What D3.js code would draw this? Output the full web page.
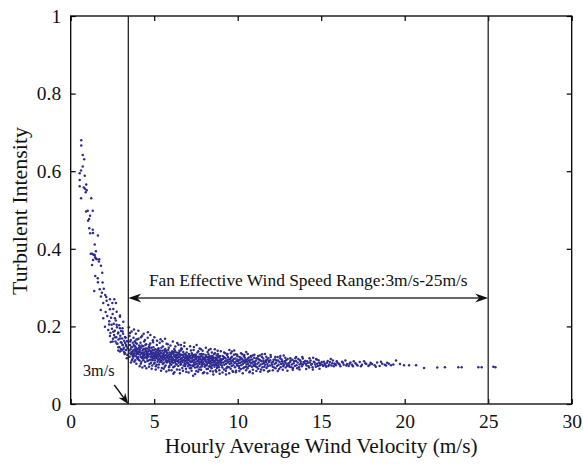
<!DOCTYPE html>
<html><head><meta charset="utf-8">
<script src="https://cdn.jsdelivr.net/npm/d3@7"></script>
<style>
html,body{margin:0;padding:0;background:#fff;}
svg{display:block;font-family:"Liberation Serif","DejaVu Serif",serif;}
</style></head>
<body><svg id="chart" width="583" height="464"></svg>
<script>
// ---- data ----
const xTicks = [0, 5, 10, 15, 20, 25, 30];
const yTicks = [0, 0.2, 0.4, 0.6, 0.8, 1];
const xTickLabels = ["0", "5", "10", "15", "20", "25", "30"];
const yTickLabels = ["0", "0.2", "0.4", "0.6", "0.8", "1"];
const boundaryLines = [3.45, 25];
const rangeArrowY = 0.273;
const rangeLabel = "Fan Effective Wind Speed Range:3m/s-25m/s";
const cutInLabel = "3m/s";
const xTitle = "Hourly Average Wind Velocity (m/s)";
const yTitle = "Turbulent Intensity";

// low wind tail (x < 3.45)
const tailPoints = [
[0.63,0.680],[0.63,0.666],[0.72,0.642],[0.81,0.631],[0.72,0.612],[0.62,0.602],[0.54,0.595],[0.84,0.588],[0.54,0.577],[0.93,0.566],
[0.54,0.561],[0.78,0.558],[0.86,0.555],[0.96,0.551],[0.90,0.546],[0.62,0.530],[1.23,0.530],[1.02,0.498],[0.92,0.496],[1.32,0.498],
[1.16,0.485],[1.10,0.477],[1.04,0.472],[1.11,0.453],[1.32,0.449],[1.17,0.440],[1.34,0.441],[1.63,0.434],[1.44,0.411],[1.51,0.394],
[1.28,0.387],[1.35,0.385],[1.44,0.384],[1.51,0.375],[1.71,0.373],[1.20,0.387],[1.40,0.384],[1.46,0.378],[1.34,0.371],[1.56,0.373],
[1.69,0.367],[1.28,0.358],[1.81,0.356],[1.89,0.338],[1.47,0.330],[1.62,0.324],[1.63,0.314],[1.91,0.313],[1.41,0.291],[1.74,0.296],
[1.98,0.297],[1.87,0.287],[2.07,0.281],[2.13,0.276],[1.81,0.277],[2.35,0.270],[2.15,0.266],[2.61,0.270],[1.95,0.260],[2.25,0.255],
[2.49,0.260],[2.71,0.260],[1.80,0.242],[2.09,0.237],[2.35,0.244],[2.51,0.232],[2.19,0.227],[2.75,0.238],[1.95,0.221],[2.31,0.213],
[2.65,0.221],[2.95,0.225],[2.05,0.199],[2.45,0.204],[2.75,0.204],[2.95,0.195],[3.15,0.212],[2.25,0.191],[2.55,0.186],[2.85,0.184],
[3.11,0.187],[2.35,0.175],[2.65,0.172],[2.95,0.169],[3.25,0.173],[2.51,0.161],[2.75,0.156],[3.05,0.158],[3.31,0.152],[2.85,0.146],
[3.15,0.141],[2.95,0.135],[3.25,0.131],[3.10,0.152],
[2.30,0.205],[2.38,0.183],[2.42,0.222],[2.47,0.194],[2.53,0.168],[2.58,0.207],[2.60,0.178],[2.64,0.189],[2.68,0.161],[2.70,0.215],
[2.73,0.172],[2.77,0.198],[2.80,0.155],[2.83,0.182],[2.86,0.166],[2.90,0.203],[2.92,0.147],[2.97,0.176],[3.00,0.159],[3.02,0.188],
[3.05,0.138],[3.08,0.169],[3.12,0.152],[3.14,0.181],[3.18,0.145],[3.20,0.163],[3.23,0.129],[3.26,0.157],[3.29,0.171],[3.31,0.139],
[3.34,0.148],[3.37,0.162],[3.39,0.126],[3.42,0.144],[3.36,0.118],[3.20,0.134],[3.00,0.142],[2.85,0.138],[3.10,0.195],[2.95,0.228],
[2.55,0.245],[2.40,0.160]
];

// main band (x >= 3.45)
const bandPoints = [
[3.48,0.198],[3.52,0.175],[3.55,0.152],[3.58,0.141],[3.60,0.165],[3.62,0.128],[3.65,0.187],[3.67,0.146],[3.70,0.133],[3.72,0.158],
[3.74,0.119],[3.76,0.171],[3.78,0.139],[3.80,0.125],[3.82,0.149],[3.84,0.162],[3.86,0.113],[3.88,0.136],[3.90,0.181],[3.92,0.144],
[3.94,0.129],[3.96,0.155],[3.98,0.118],[3.50,0.138],[3.53,0.122],[3.57,0.131],[3.63,0.147],[3.68,0.115],[3.73,0.137],[3.77,0.152],
[3.83,0.131],[3.87,0.148],[3.91,0.123],[3.95,0.139],[3.99,0.167],[3.61,0.107],[3.71,0.124],[3.81,0.109],[3.89,0.157],[3.97,0.134],
[4.02,0.142],[4.04,0.121],[4.06,0.168],[4.08,0.134],[4.10,0.151],[4.12,0.112],[4.14,0.139],[4.16,0.127],[4.18,0.158],[4.20,0.104],
[4.22,0.145],[4.24,0.131],[4.26,0.119],[4.28,0.176],[4.30,0.138],[4.32,0.124],[4.34,0.149],[4.36,0.113],[4.38,0.133],[4.40,0.161],
[4.42,0.128],[4.44,0.142],[4.46,0.108],[4.48,0.136],[4.50,0.121],[4.52,0.154],[4.54,0.131],[4.56,0.117],[4.58,0.143],[4.60,0.126],
[4.62,0.185],[4.64,0.135],[4.66,0.112],[4.68,0.147],[4.70,0.129],[4.72,0.103],[4.74,0.138],[4.76,0.156],[4.78,0.122],[4.80,0.134],
[4.82,0.115],[4.84,0.145],[4.86,0.127],[4.88,0.099],[4.90,0.139],[4.92,0.164],[4.94,0.118],[4.96,0.131],[4.98,0.124],
[4.03,0.129],[4.07,0.114],[4.11,0.136],[4.15,0.146],[4.19,0.121],[4.23,0.109],[4.27,0.132],[4.31,0.117],[4.35,0.141],[4.39,0.125],
[4.43,0.098],[4.47,0.152],[4.51,0.137],[4.55,0.126],[4.59,0.111],[4.63,0.122],[4.67,0.139],[4.71,0.152],[4.75,0.114],[4.79,0.128],
[4.83,0.136],[4.87,0.121],[4.91,0.113],[4.95,0.146],[4.99,0.104],
[5.02,0.128],[5.04,0.113],[5.06,0.141],[5.08,0.122],[5.10,0.097],[5.12,0.135],[5.14,0.118],[5.16,0.152],[5.18,0.126],[5.20,0.109],
[5.22,0.133],[5.24,0.121],[5.26,0.144],[5.28,0.102],[5.30,0.127],[5.32,0.116],[5.34,0.138],[5.36,0.124],[5.38,0.167],[5.40,0.112],
[5.42,0.131],[5.44,0.119],[5.46,0.093],[5.48,0.137],[5.50,0.125],[5.52,0.148],[5.54,0.114],[5.56,0.129],[5.58,0.106],[5.60,0.121],
[5.62,0.134],[5.64,0.117],[5.66,0.142],[5.68,0.099],[5.70,0.126],[5.72,0.113],[5.74,0.155],[5.76,0.122],[5.78,0.131],[5.80,0.108],
[5.82,0.119],[5.84,0.139],[5.86,0.126],[5.88,0.087],[5.90,0.115],[5.92,0.133],[5.94,0.121],[5.96,0.104],[5.98,0.128],
[5.03,0.106],[5.07,0.133],[5.11,0.124],[5.15,0.101],[5.19,0.139],[5.23,0.114],[5.27,0.129],[5.31,0.136],[5.35,0.108],[5.39,0.121],
[5.43,0.145],[5.47,0.117],[5.51,0.103],[5.55,0.131],[5.59,0.124],[5.63,0.096],[5.67,0.118],[5.71,0.137],[5.75,0.107],[5.79,0.124],
[5.83,0.112],[5.87,0.145],[5.91,0.098],[5.95,0.122],[5.99,0.115],
[6.02,0.124],[6.05,0.109],[6.08,0.136],[6.11,0.117],[6.14,0.095],[6.17,0.128],[6.20,0.142],[6.23,0.113],[6.26,0.121],[6.29,0.104],
[6.32,0.133],[6.35,0.118],[6.38,0.157],[6.41,0.126],[6.44,0.098],[6.47,0.114],[6.50,0.131],[6.53,0.122],[6.56,0.108],[6.59,0.138],
[6.62,0.116],[6.65,0.127],[6.68,0.093],[6.71,0.112],[6.74,0.134],[6.77,0.121],[6.80,0.149],[6.83,0.105],[6.86,0.118],[6.89,0.127],
[6.92,0.083],[6.95,0.113],[6.98,0.124],
[6.03,0.101],[6.07,0.119],[6.10,0.131],[6.13,0.106],[6.16,0.114],[6.19,0.123],[6.22,0.097],[6.25,0.137],[6.28,0.115],[6.31,0.126],
[6.34,0.102],[6.37,0.111],[6.40,0.119],[6.43,0.132],[6.46,0.106],[6.49,0.121],[6.52,0.088],[6.55,0.127],[6.58,0.115],[6.61,0.103],
[6.64,0.141],[6.67,0.119],[6.70,0.108],[6.73,0.125],[6.76,0.099],[6.79,0.114],[6.82,0.129],[6.85,0.111],[6.88,0.102],[6.91,0.121],
[6.94,0.133],[6.97,0.107],[6.99,0.116],[6.15,0.078],[6.60,0.152],
[7.02,0.118],[7.05,0.103],[7.08,0.129],[7.11,0.112],[7.14,0.092],[7.17,0.124],[7.20,0.138],[7.23,0.108],[7.26,0.117],[7.29,0.099],
[7.32,0.126],[7.35,0.113],[7.38,0.147],[7.41,0.121],[7.44,0.094],[7.47,0.109],[7.50,0.127],[7.53,0.116],[7.56,0.104],[7.59,0.133],
[7.62,0.111],[7.65,0.122],[7.68,0.089],[7.71,0.107],[7.74,0.128],[7.77,0.116],[7.80,0.141],[7.83,0.101],[7.86,0.113],[7.89,0.122],
[7.92,0.079],[7.95,0.109],[7.98,0.119],
[7.03,0.097],[7.07,0.114],[7.10,0.125],[7.13,0.101],[7.16,0.109],[7.19,0.118],[7.22,0.093],[7.25,0.131],[7.28,0.111],[7.31,0.121],
[7.34,0.098],[7.37,0.106],[7.40,0.114],[7.43,0.127],[7.46,0.102],[7.49,0.117],[7.52,0.085],[7.55,0.122],[7.58,0.110],[7.61,0.098],
[7.64,0.136],[7.67,0.114],[7.70,0.103],[7.73,0.121],[7.76,0.095],[7.79,0.109],[7.82,0.124],[7.85,0.106],[7.88,0.097],[7.91,0.116],
[7.94,0.128],[7.97,0.103],[7.33,0.073],
[8.02,0.115],[8.05,0.101],[8.08,0.126],[8.11,0.109],[8.14,0.090],[8.17,0.121],[8.20,0.134],[8.23,0.106],[8.26,0.114],[8.29,0.097],
[8.32,0.123],[8.35,0.111],[8.38,0.142],[8.41,0.118],[8.44,0.092],[8.47,0.107],[8.50,0.124],[8.53,0.113],[8.56,0.102],[8.59,0.129],
[8.62,0.109],[8.65,0.119],[8.68,0.087],[8.71,0.105],[8.74,0.125],[8.77,0.113],[8.80,0.137],[8.83,0.099],[8.86,0.111],[8.89,0.120],
[8.92,0.078],[8.95,0.107],[8.98,0.116],
[8.03,0.096],[8.07,0.112],[8.10,0.122],[8.13,0.099],[8.16,0.107],[8.19,0.115],[8.22,0.091],[8.25,0.128],[8.28,0.109],[8.31,0.118],
[8.34,0.096],[8.37,0.104],[8.40,0.112],[8.43,0.124],[8.46,0.100],[8.49,0.115],[8.52,0.084],[8.55,0.119],[8.58,0.108],[8.61,0.096],
[8.64,0.131],[8.67,0.112],[8.70,0.101],[8.73,0.118],[8.76,0.093],[8.79,0.107],[8.82,0.121],[8.85,0.104],[8.88,0.095],[8.91,0.113],
[8.94,0.124],[8.97,0.101],
[9.02,0.113],[9.06,0.099],[9.10,0.124],[9.14,0.107],[9.18,0.089],[9.22,0.119],[9.26,0.131],[9.30,0.104],[9.34,0.112],[9.38,0.096],
[9.42,0.121],[9.46,0.109],[9.50,0.139],[9.54,0.116],[9.58,0.091],[9.62,0.105],[9.66,0.122],[9.70,0.111],[9.74,0.100],[9.78,0.127],
[9.82,0.107],[9.86,0.117],[9.90,0.086],[9.94,0.103],[9.98,0.123],
[9.04,0.106],[9.08,0.094],[9.12,0.116],[9.16,0.121],[9.20,0.101],[9.24,0.110],[9.28,0.117],[9.32,0.092],[9.36,0.126],[9.40,0.107],
[9.44,0.115],[9.48,0.095],[9.52,0.103],[9.56,0.110],[9.60,0.119],[9.64,0.098],[9.68,0.113],[9.72,0.083],[9.76,0.116],[9.80,0.106],
[9.84,0.095],[9.88,0.128],[9.92,0.110],[9.96,0.099],[9.99,0.115],[9.30,0.076],[9.65,0.135],
[10.03,0.111],[10.07,0.098],[10.11,0.121],[10.15,0.106],[10.19,0.090],[10.23,0.117],[10.27,0.128],[10.31,0.103],[10.35,0.111],[10.39,0.095],
[10.43,0.119],[10.47,0.108],[10.51,0.134],[10.55,0.114],[10.59,0.092],[10.63,0.104],[10.67,0.120],[10.71,0.109],[10.75,0.099],[10.79,0.124],
[10.83,0.106],[10.87,0.115],[10.91,0.088],[10.95,0.102],[10.99,0.119],
[10.05,0.105],[10.09,0.093],[10.13,0.114],[10.17,0.119],[10.21,0.100],[10.25,0.109],[10.29,0.115],[10.33,0.092],[10.37,0.123],[10.41,0.106],
[10.45,0.113],[10.49,0.096],[10.53,0.102],[10.57,0.109],[10.61,0.117],[10.65,0.097],[10.69,0.112],[10.73,0.084],[10.77,0.114],[10.81,0.105],
[10.85,0.096],[10.89,0.125],[10.93,0.109],[10.97,0.098],
[11.03,0.109],[11.08,0.097],[11.13,0.118],[11.18,0.104],[11.23,0.091],[11.28,0.115],[11.33,0.125],[11.38,0.102],[11.43,0.110],[11.48,0.095],
[11.53,0.117],[11.58,0.106],[11.63,0.129],[11.68,0.112],[11.73,0.093],[11.78,0.103],[11.83,0.118],[11.88,0.108],[11.93,0.099],[11.98,0.121],
[11.05,0.103],[11.10,0.112],[11.15,0.095],[11.20,0.117],[11.25,0.107],[11.30,0.098],[11.35,0.113],[11.40,0.089],[11.45,0.121],[11.50,0.104],
[11.55,0.111],[11.60,0.096],[11.65,0.101],[11.70,0.108],[11.75,0.115],[11.80,0.097],[11.85,0.111],[11.90,0.086],[11.95,0.113],
[12.03,0.106],[12.09,0.096],[12.15,0.114],[12.21,0.103],[12.27,0.092],[12.33,0.112],[12.39,0.121],[12.45,0.101],[12.51,0.108],[12.57,0.095],
[12.63,0.115],[12.69,0.105],[12.75,0.125],[12.81,0.110],[12.87,0.094],[12.93,0.103],[12.99,0.116],
[12.06,0.101],[12.12,0.109],[12.18,0.094],[12.24,0.115],[12.30,0.106],[12.36,0.098],[12.42,0.112],[12.48,0.090],[12.54,0.118],[12.60,0.103],
[12.66,0.110],[12.72,0.097],[12.78,0.101],[12.84,0.107],[12.90,0.113],[12.96,0.098],
[13.04,0.105],[13.10,0.096],[13.17,0.112],[13.24,0.102],[13.31,0.093],[13.38,0.110],[13.45,0.118],[13.52,0.100],[13.59,0.107],[13.66,0.095],
[13.73,0.113],[13.80,0.104],[13.87,0.121],[13.94,0.108],
[13.07,0.100],[13.14,0.108],[13.21,0.095],[13.28,0.114],[13.35,0.105],[13.42,0.098],[13.49,0.111],[13.56,0.092],[13.63,0.116],[13.70,0.102],
[13.77,0.109],[13.84,0.097],[13.91,0.102],[13.98,0.106],
[14.04,0.111],[14.12,0.099],[14.20,0.106],[14.28,0.094],[14.36,0.112],[14.44,0.103],[14.52,0.119],[14.60,0.107],[14.68,0.096],[14.76,0.104],
[14.84,0.113],[14.92,0.100],
[14.08,0.103],[14.16,0.110],[14.24,0.097],[14.32,0.107],[14.40,0.101],[14.48,0.095],[14.56,0.109],[14.64,0.102],[14.72,0.115],[14.80,0.098],
[14.88,0.106],[14.96,0.104],
[15.03,0.108],[15.12,0.098],[15.21,0.104],[15.30,0.096],[15.39,0.111],[15.48,0.102],[15.57,0.116],[15.66,0.105],[15.75,0.097],[15.84,0.103],
[15.93,0.110],
[15.07,0.101],[15.16,0.109],[15.25,0.100],[15.34,0.106],[15.43,0.098],[15.52,0.108],[15.61,0.099],[15.70,0.112],[15.79,0.104],[15.88,0.100],
[15.97,0.106],
[16.05,0.104],[16.15,0.097],[16.25,0.109],[16.35,0.101],[16.45,0.112],[16.55,0.103],[16.65,0.098],[16.75,0.107],[16.85,0.101],[16.95,0.110],
[16.10,0.102],[16.30,0.106],[16.50,0.099],[16.70,0.104],[16.90,0.097],
[17.05,0.105],[17.18,0.099],[17.31,0.108],[17.44,0.101],[17.57,0.110],[17.70,0.103],[17.83,0.098],[17.96,0.106],
[17.12,0.102],[17.38,0.097],[17.64,0.105],[17.90,0.101],
[18.05,0.103],[18.20,0.100],[18.35,0.107],[18.50,0.098],[18.65,0.104],[18.80,0.101],[18.95,0.106],[18.27,0.096],[18.58,0.109],[18.88,0.099],
[19.05,0.104],[19.18,0.100],[19.32,0.102],[19.48,0.112],[19.72,0.103],[19.96,0.100],[20.26,0.100],[20.68,0.100],[21.16,0.093],[21.95,0.094],
[22.41,0.095],[23.21,0.095],[23.41,0.095],[24.41,0.095],[24.61,0.095],[25.31,0.096],[25.43,0.095]
];

// band edges (upper and lower scatter, x 3.5–15)
const bandEdgePoints = [
[3.55,0.183],[3.66,0.112],[3.79,0.192],[3.93,0.104],[4.05,0.189],[4.13,0.097],[4.21,0.172],[4.29,0.094],[4.37,0.181],[4.45,0.165],
[4.53,0.092],[4.61,0.171],[4.69,0.096],[4.77,0.178],[4.85,0.091],[4.93,0.159],[5.01,0.172],[5.09,0.089],[5.17,0.163],[5.25,0.094],
[5.33,0.158],[5.41,0.086],[5.49,0.162],[5.57,0.091],[5.65,0.168],[5.73,0.084],[5.81,0.154],[5.89,0.095],[5.97,0.151],[6.04,0.087],
[6.12,0.161],[6.21,0.082],[6.27,0.148],[6.36,0.089],[6.45,0.153],[6.54,0.079],[6.63,0.144],[6.72,0.086],[6.81,0.158],[6.90,0.091],
[6.96,0.142],[7.06,0.081],[7.15,0.149],[7.24,0.086],[7.36,0.139],[7.45,0.077],[7.54,0.152],[7.63,0.083],[7.72,0.143],[7.81,0.088],
[7.90,0.137],[7.99,0.082],[8.09,0.145],[8.18,0.079],[8.27,0.139],[8.36,0.085],[8.45,0.133],[8.54,0.076],[8.63,0.141],[8.72,0.083],
[8.81,0.129],[8.90,0.087],[8.99,0.136],[9.09,0.081],[9.19,0.133],[9.29,0.086],[9.39,0.129],[9.49,0.079],[9.59,0.131],[9.69,0.085],
[9.79,0.138],[9.89,0.082],[9.97,0.127],[10.10,0.085],[10.20,0.131],[10.30,0.079],[10.40,0.126],[10.50,0.087],[10.60,0.129],[10.70,0.082],
[10.80,0.122],[10.90,0.079],[11.00,0.127],[11.12,0.085],[11.22,0.124],[11.36,0.083],[11.46,0.128],[11.57,0.087],[11.71,0.122],[11.82,0.084],
[11.97,0.126],[12.10,0.087],[12.25,0.121],[12.40,0.085],[12.55,0.124],[12.70,0.088],[12.85,0.119],[12.98,0.086],[13.15,0.118],[13.30,0.088],
[13.50,0.121],[13.70,0.089],[13.90,0.117],[14.10,0.090],[14.30,0.118],[14.50,0.089],[14.70,0.116],[14.90,0.091],
[3.56,0.161],[3.64,0.134],[3.75,0.128],[3.85,0.141],[3.93,0.166],[4.01,0.117],[4.09,0.145],[4.17,0.133],[4.25,0.151],[4.33,0.128],
[4.41,0.119],[4.49,0.143],[4.57,0.132],[4.65,0.124],[4.73,0.145],[4.81,0.106],[4.89,0.131],[4.97,0.138],[5.05,0.119],[5.13,0.128],
[5.21,0.141],[5.29,0.115],[5.37,0.131],[5.45,0.109],[5.53,0.122],[5.61,0.139],[5.69,0.111],[5.77,0.133],[5.85,0.119],[5.93,0.109],
[6.01,0.131],[6.09,0.112],[6.18,0.134],[6.24,0.108],[6.33,0.122],[6.42,0.111],[6.51,0.137],[6.57,0.101],[6.66,0.111],[6.75,0.127],
[6.84,0.098],[6.93,0.119],[7.01,0.106],[7.09,0.121],[7.18,0.099],[7.27,0.127],[7.39,0.102],[7.48,0.123],[7.57,0.095],[7.66,0.119],
[7.75,0.108],[7.84,0.129],[7.93,0.104],[8.04,0.118],[8.15,0.102],[8.24,0.121],[8.33,0.105],[8.42,0.096],[8.51,0.118],[8.60,0.101],
[8.69,0.115],[8.78,0.098],[8.87,0.123],[8.96,0.110]
];

// ---- layout ----
const W = 583, H = 464;
const m = {left: 70.7, right: 583 - 571.7, top: 16, bottom: 464 - 404};
const svg = d3.select("#chart");
const x = d3.scaleLinear().domain([0, 30]).range([m.left, W - m.right]);
const y = d3.scaleLinear().domain([0, 1]).range([H - m.bottom, m.top]);
const FONT = "Liberation Serif, DejaVu Serif, serif";

// fit a text element's font size so its width matches a target width
function fitWidth(sel, target) {
  const fs = parseFloat(sel.attr("font-size"));
  const w = sel.node().getComputedTextLength();
  if (w > 0) sel.attr("font-size", (fs * target / w).toFixed(2));
  return sel;
}

// scatter
const dotColor = "#2e2a90";
svg.append("g").selectAll("circle")
  .data(tailPoints.concat(bandPoints, bandEdgePoints))
  .join("circle")
  .attr("cx", d => x(d[0]))
  .attr("cy", d => y(d[1]))
  .attr("r", 1.25)
  .attr("fill", dotColor);

// axes
const fmtX = d => xTickLabels[xTicks.indexOf(d)];
const fmtY = d => yTickLabels[yTicks.indexOf(d)];
const gx = svg.append("g").attr("transform", `translate(0,${y(0)})`)
  .call(d3.axisBottom(x).tickValues(xTicks).tickFormat(fmtX).tickSize(-5).tickPadding(10));
const gy = svg.append("g").attr("transform", `translate(${x(0)},0)`)
  .call(d3.axisLeft(y).tickValues(yTicks).tickFormat(fmtY).tickSize(-5).tickPadding(9.5));
const gt = svg.append("g").attr("transform", `translate(0,${y(1)})`)
  .call(d3.axisTop(x).tickValues(xTicks).tickFormat("").tickSize(-5));
const gr = svg.append("g").attr("transform", `translate(${x(30)},0)`)
  .call(d3.axisRight(y).tickValues(yTicks).tickFormat("").tickSize(-5));
[gx, gy, gt, gr].forEach(g => {
  g.attr("font-family", FONT);
  g.select(".domain").remove();
  g.selectAll("line").attr("stroke", "#000").attr("stroke-width", 1.2);
  g.selectAll("text").attr("font-size", 19.5).attr("fill", "#111");
});

// frame
svg.append("rect")
  .attr("x", x(0)).attr("y", y(1))
  .attr("width", x(30) - x(0)).attr("height", y(0) - y(1))
  .attr("fill", "none").attr("stroke", "#000").attr("stroke-width", 1.3);

// boundary lines
svg.append("g").selectAll("line").data(boundaryLines).join("line")
  .attr("x1", d => x(d)).attr("x2", d => x(d))
  .attr("y1", y(0)).attr("y2", y(1))
  .attr("stroke", "#222").attr("stroke-width", 1.3);

// arrowheads
function arrowHead(tipX, tipY, angle, len, half, notch) {
  const c = Math.cos(angle), s = Math.sin(angle);
  const pt = (a, b) => [tipX - a * c + b * s, tipY - a * s - b * c];
  const p = [pt(0, 0), pt(len, half), pt(len - notch, 0), pt(len, -half)];
  return "M" + p.map(q => q.join(",")).join("L") + "Z";
}
const ay = y(rangeArrowY);
const ax1 = x(boundaryLines[0]), ax2 = x(boundaryLines[1]);
svg.append("line").attr("x1", ax1 + 4).attr("x2", ax2 - 4).attr("y1", ay).attr("y2", ay)
  .attr("stroke", "#333").attr("stroke-width", 1.5);
svg.append("path").attr("d", arrowHead(ax1, ay, Math.PI, 13, 4.5, 4)).attr("fill", "#111");
svg.append("path").attr("d", arrowHead(ax2, ay, 0, 13, 4.5, 4)).attr("fill", "#111");

const rl = svg.append("text").attr("x", (ax1 + ax2) / 2).attr("y", ay - 12)
  .attr("text-anchor", "middle").attr("font-family", FONT).attr("font-size", 17).attr("fill", "#111")
  .text(rangeLabel);
fitWidth(rl, 319);

// 3 m/s pointer
const tipX = x(boundaryLines[0]), tipY = y(0);
const sx = tipX - 14, sy = tipY - 19;
const ang = Math.atan2(tipY - sy, tipX - sx);
svg.append("line").attr("x1", sx).attr("y1", sy)
  .attr("x2", tipX - 6 * Math.cos(ang)).attr("y2", tipY - 6 * Math.sin(ang))
  .attr("stroke", "#111").attr("stroke-width", 1.4);
svg.append("path").attr("d", arrowHead(tipX, tipY, ang, 11, 4.2, 3.5)).attr("fill", "#111");
const cl = svg.append("text").attr("x", 83).attr("y", 375.5)
  .attr("font-family", FONT).attr("font-size", 15.5).attr("fill", "#111").text(cutInLabel);
fitWidth(cl, 31.5);

// titles
const xt = svg.append("text").attr("x", (x(0) + x(30)) / 2).attr("y", 453)
  .attr("text-anchor", "middle").attr("font-family", FONT).attr("font-size", 20).attr("fill", "#111").text(xTitle);
fitWidth(xt, 313);
const yt = svg.append("text").attr("transform", `translate(27,${(y(0) + y(1)) / 2 + 1}) rotate(-90)`)
  .attr("text-anchor", "middle").attr("font-family", FONT).attr("font-size", 19).attr("fill", "#111").text(yTitle);
fitWidth(yt, 168);
</script></body></html>
